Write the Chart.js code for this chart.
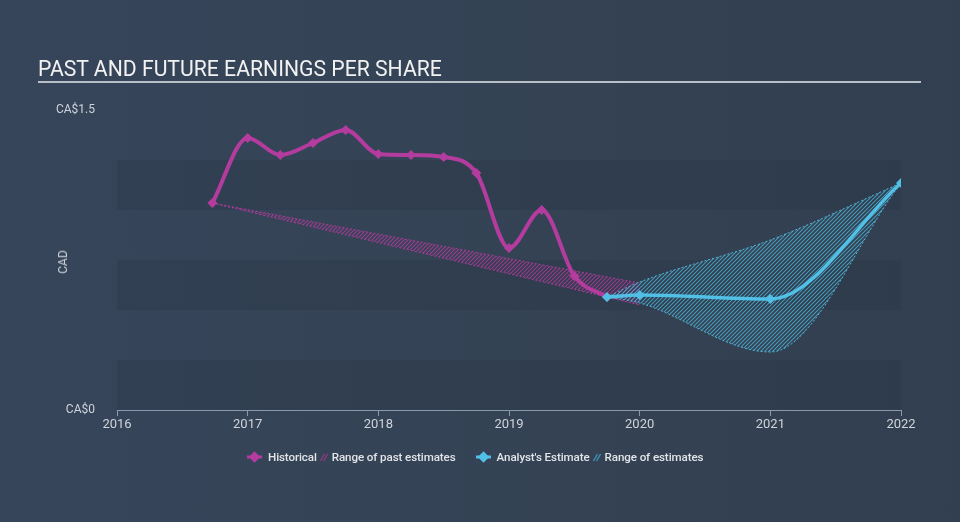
<!DOCTYPE html>
<html>
<head>
<meta charset="utf-8">
<script src="https://cdn.jsdelivr.net/npm/chart.js@4"></script>
<style>
  body { margin: 0; background: #344254; }
  #wrap { position: relative; width: 960px; height: 522px; background: linear-gradient(90deg, #36455a 0%, #344254 60%, #323f50 100%); overflow: hidden; }
  #chart { position: absolute; left: 0; top: 0; }
  #title { position: absolute; left: 38px; top: 56px; width: 883px; height: 25px; line-height: 25px;
           font: 21.2px Roboto, sans-serif; color: #f2f2f2; border-bottom: 2px solid #b9bfc7; }
  #ytitle { position: absolute; left: 63px; top: 262px; transform: translate(-50%, -50%) rotate(-90deg);
            font: 12px Roboto, sans-serif; color: #cfd4da; }
  #legend { position: absolute; left: 246px; top: 449px; height: 16px; display: flex; align-items: center;
            font: 500 11.6px Roboto, sans-serif; color: #e2e4e8; white-space: nowrap; letter-spacing: -0.1px; }
  .line-ic { margin-right: 5px; }
  .hatch-ic { margin: 0 4px 0 3px; }
  .gap { width: 19px; }
</style>
</head>
<body>
<div id="wrap">
  <canvas id="chart" width="960" height="522"></canvas>
  <div id="title">PAST AND FUTURE EARNINGS PER SHARE</div>
  <div id="ytitle">CAD</div>
  <div id="legend">
    <svg class="line-ic" width="17" height="12"><line x1="1" y1="6" x2="16" y2="6" stroke="#b43c9e" stroke-width="3"/><rect x="4.5" y="2" width="8" height="8" fill="#b43c9e" transform="rotate(45 8.5 6)"/></svg>
    <span>Historical</span>
    <svg class="hatch-ic" width="8" height="12"><line x1="0.5" y1="10" x2="4.5" y2="3" stroke="#8e3a86" stroke-width="1.3"/><line x1="3.5" y1="10" x2="7.5" y2="3" stroke="#8e3a86" stroke-width="1.3"/></svg>
    <span>Range of past estimates</span>
    <span class="gap"></span>
    <svg class="line-ic" width="17" height="12"><line x1="1" y1="6" x2="16" y2="6" stroke="#52c0e6" stroke-width="3"/><rect x="4.5" y="2" width="8" height="8" fill="#52c0e6" transform="rotate(45 8.5 6)"/></svg>
    <span>Analyst's Estimate</span>
    <svg class="hatch-ic" width="8" height="12"><line x1="0.5" y1="10" x2="4.5" y2="3" stroke="#3f95b8" stroke-width="1.3"/><line x1="3.5" y1="10" x2="7.5" y2="3" stroke="#3f95b8" stroke-width="1.3"/></svg>
    <span>Range of estimates</span>
  </div>
</div>
<script>
// historical EPS (fractional years)
const histDates = [2016.73, 2017.0, 2017.25, 2017.5, 2017.75, 2018.0, 2018.25, 2018.5, 2018.75, 2019.0, 2019.25, 2019.5, 2019.75];
const histEps = [1.035, 1.36, 1.275, 1.335, 1.40, 1.28, 1.275, 1.265, 1.185, 0.81, 1.00, 0.67, 0.565];

// range of past estimates
const pastRangeDates = [2016.73, 2020.0];
const pastRangeHigh = [1.035, 0.635];
const pastRangeLow = [1.035, 0.525];

// analyst estimates + range
const estDates = [2019.75, 2020.0, 2021.0, 2022.0];
const estEps = [0.565, 0.575, 0.555, 1.135];
const estHigh = [0.565, 0.64, 0.85, 1.135];
const estLow = [0.565, 0.535, 0.29, 1.135];

const yTicks = [0, 1.5];
const bands = [[0, 0.25], [0.5, 0.75], [1.0, 1.25]];

const toPts = (xs, ys) => xs.map((x, i) => ({ x: x, y: ys[i] }));

function hatch(color) {
    const c = document.createElement('canvas');
    c.width = 4; c.height = 4;
    const g = c.getContext('2d');
    g.strokeStyle = color;
    g.lineWidth = 1.1;
    g.beginPath();
    g.moveTo(0, 4); g.lineTo(4, 0);
    g.moveTo(-1, 1); g.lineTo(1, -1);
    g.moveTo(3, 5); g.lineTo(5, 3);
    g.stroke();
    return document.getElementById('chart').getContext('2d').createPattern(c, 'repeat');
}

const magenta = '#b43c9e';
const cyan = '#52c0e6';

const bandPlugin = {
    id: 'bands',
    beforeDatasetsDraw(chart) {
        const { ctx, chartArea, scales } = chart;
        ctx.save();
        ctx.fillStyle = 'rgba(30, 40, 52, 0.17)';
        bands.forEach(b => {
            const top = scales.y.getPixelForValue(b[1]);
            const bot = scales.y.getPixelForValue(b[0]);
            ctx.fillRect(chartArea.left, top, chartArea.right - chartArea.left, bot - top);
        });
        ctx.restore();
    }
};

new Chart(document.getElementById('chart'), {
    type: 'line',
    data: {
        datasets: [
            {   // 0 past range high
                data: toPts(pastRangeDates, pastRangeHigh),
                borderColor: 'rgba(180, 60, 158, 0.85)', borderWidth: 1, borderDash: [2, 2],
                backgroundColor: hatch('rgba(180, 60, 158, 0.8)'),
                fill: 1, pointRadius: 0, tension: 0, order: 5
            },
            {   // 1 past range low
                data: toPts(pastRangeDates, pastRangeLow),
                borderColor: 'rgba(180, 60, 158, 0.85)', borderWidth: 1, borderDash: [2, 2],
                fill: false, pointRadius: 0, tension: 0, order: 5
            },
            {   // 2 estimate range high
                data: toPts(estDates, estHigh),
                borderColor: 'rgba(82, 192, 230, 0.9)', borderWidth: 1, borderDash: [2, 2],
                backgroundColor: hatch('rgba(82, 192, 230, 0.7)'),
                fill: 3, pointRadius: 0, cubicInterpolationMode: 'monotone', order: 4
            },
            {   // 3 estimate range low
                data: toPts(estDates, estLow),
                borderColor: 'rgba(82, 192, 230, 0.9)', borderWidth: 1, borderDash: [2, 2],
                fill: false, pointRadius: 0, cubicInterpolationMode: 'monotone', order: 4
            },
            {   // 4 historical
                label: 'Historical',
                data: toPts(histDates, histEps),
                borderColor: magenta, backgroundColor: magenta, borderWidth: 4,
                pointStyle: 'rectRot', pointRadius: 5, pointBorderWidth: 0,
                fill: false, cubicInterpolationMode: 'monotone', order: 2
            },
            {   // 5 analyst estimate
                label: "Analyst's Estimate",
                data: toPts(estDates, estEps),
                borderColor: cyan, backgroundColor: cyan, borderWidth: 3.5,
                pointStyle: 'rectRot', pointRadius: 5, pointBorderWidth: 0,
                fill: false, cubicInterpolationMode: 'monotone', order: 1
            }
        ]
    },
    options: {
        responsive: false,
        animation: false,
        layout: { padding: { left: 0, top: 110, right: 59, bottom: 72 } },
        plugins: {
            legend: { display: false },
            tooltip: { enabled: false }
        },
        scales: {
            x: {
                type: 'linear', min: 2016, max: 2022,
                afterBuildTicks: s => { s.ticks = [2016, 2017, 2018, 2019, 2020, 2021, 2022].map(v => ({ value: v })); },
                afterFit: s => { s.height = 40; },
                ticks: { color: '#cfd4da', font: { family: 'Roboto', size: 13 }, padding: 1, maxRotation: 0,
                         callback: v => String(v) },
                grid: { drawOnChartArea: false, drawTicks: true, tickLength: 6, color: '#8a99ad' },
                border: { color: '#8a99ad', width: 1 }
            },
            y: {
                min: 0, max: 1.5,
                afterBuildTicks: s => { s.ticks = yTicks.map(v => ({ value: v })); },
                afterFit: s => { s.width = 117; },
                ticks: { color: '#cfd4da', font: { family: 'Roboto', size: 12 }, padding: 14,
                         callback: v => 'CA$' + v },
                grid: { display: false },
                border: { display: false }
            }
        }
    },
    plugins: [bandPlugin]
});
</script>
</body>
</html>
